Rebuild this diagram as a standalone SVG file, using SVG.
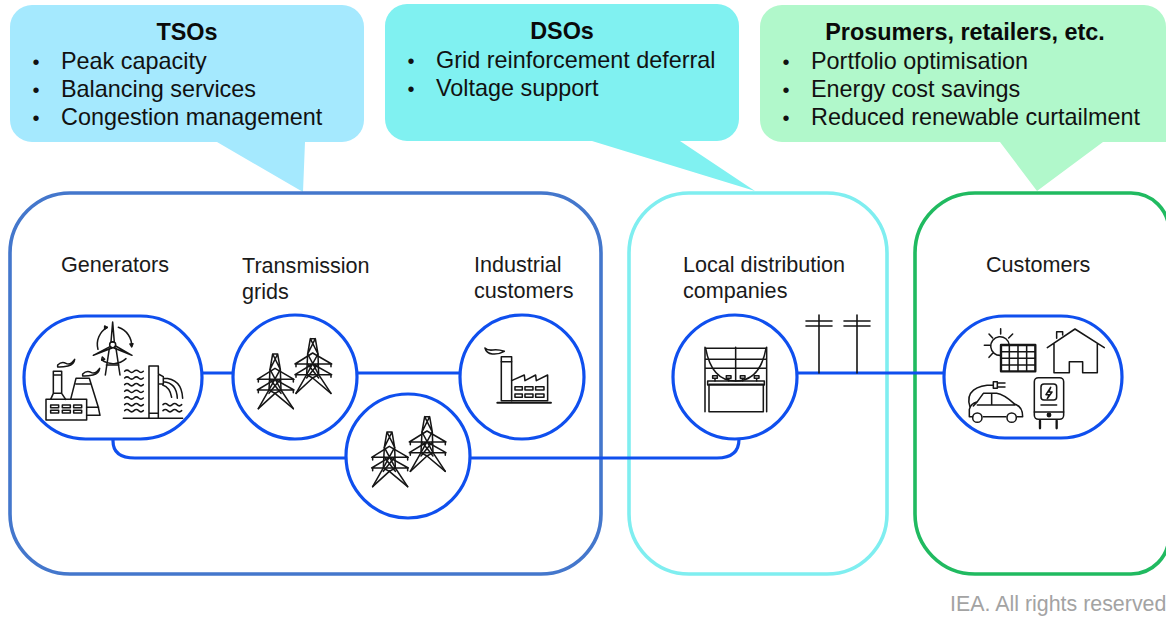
<svg xmlns="http://www.w3.org/2000/svg" xmlns:xlink="http://www.w3.org/1999/xlink" width="1166" height="618" viewBox="0 0 1166 618">
<style>
text{font-family:"Liberation Sans",Arial,sans-serif;fill:#000}
.h{font-size:23.4px;font-weight:700;text-anchor:middle;fill:#0a0a0a}
.b{font-size:23.4px;fill:#111}
.d{font-size:20px;fill:#111}
.l{font-size:21.6px;fill:#1a1a1a}
.box{fill:none;stroke-width:3.6}
.n{fill:#fff;stroke:#0f4fee;stroke-width:3.2}
.c{fill:none;stroke:#0f4fee;stroke-width:3.2}
.i{fill:none;stroke:#161616;stroke-width:4.6;stroke-linejoin:round;stroke-linecap:round}
</style>
<defs>
<g id="tower" class="i">
<path d="M143,132H158L166,178L168,240L205,296M158,132L135,178L132,240L100,296M143,132L135,178M143,132L166,178"/>
<path d="M97,208L150,175L207,208ZM97,240L150,208L207,240Z"/>
<path d="M135,178L168,240L150,250M166,178L132,240L150,250M150,250L205,296M150,250L100,296M135,208L168,250M166,208L132,250"/>
<path d="M100,208v8M205,208v8M100,240v8M205,240v8"/>
</g>
<path id="wave" d="M0,0q7,-7 14,0t14,0t14,0t14,0"/>
</defs>

<g id="callout-tso">
<path fill="#a5e9fe" d="M32,5H342a22,22 0 0 1 22,22V120a22,22 0 0 1 -22,22H305L303,192L217,142H32a22,22 0 0 1 -22,-22V27a22,22 0 0 1 22,-22Z"/>
<text class="h" x="187" y="40">TSOs</text>
<text class="d" x="32.5" y="69">•</text><text class="b" x="61" y="69">Peak capacity</text>
<text class="d" x="32.5" y="97">•</text><text class="b" x="61" y="97">Balancing services</text>
<text class="d" x="32.5" y="125">•</text><text class="b" x="61" y="125">Congestion management</text>
</g>
<g id="callout-dso">
<path fill="#80f1f1" d="M407,4H717a22,22 0 0 1 22,22V119a22,22 0 0 1 -22,22H680L755,191L592,141H407a22,22 0 0 1 -22,-22V26a22,22 0 0 1 22,-22Z"/>
<text class="h" x="562" y="39">DSOs</text>
<text class="d" x="407.5" y="68">•</text><text class="b" x="436" y="68">Grid reinforcement deferral</text>
<text class="d" x="407.5" y="96">•</text><text class="b" x="436" y="96">Voltage support</text>
</g>
<g id="callout-prosumers">
<path fill="#b1f8cb" d="M782,5H1144a22,22 0 0 1 22,22V142H1103L1037,191L1000,142H782a22,22 0 0 1 -22,-22V27a22,22 0 0 1 22,-22Z"/>
<text class="h" x="965" y="40">Prosumers, retailers, etc.</text>
<text class="d" x="782.5" y="69">•</text><text class="b" x="811" y="69">Portfolio optimisation</text>
<text class="d" x="782.5" y="97">•</text><text class="b" x="811" y="97">Energy cost savings</text>
<text class="d" x="782.5" y="125">•</text><text class="b" x="811" y="125">Reduced renewable curtailment</text>
</g>

<g id="group-boxes">
<rect class="box" x="10" y="193" width="591" height="381" rx="60" stroke="#4477cc"/>
<rect class="box" x="629" y="193" width="258" height="381" rx="60" stroke="#7feef0"/>
<path class="box" stroke="#20ba60" d="M975,193H1131a38,38 0 0 1 38,38V536a38,38 0 0 1 -38,38H975a60,60 0 0 1 -60,-60V253a60,60 0 0 1 60,-60Z"/>
</g>

<g id="connectors">
<path class="c" d="M202,373H233M357,373H460M797,373H944"/>
<path class="c" d="M113,439V441Q113,458 135,458H346M470,458H717Q739,458 739,439"/>
<g class="i" style="stroke-width:1.6">
<path d="M819,315V373M806,321H832M806,326H832M857,315V373M844,321H870M844,326H870"/>
</g>
</g>

<g id="generators">
<rect class="n" x="24" y="316" width="178" height="123" rx="61.5"/>
<text class="l" x="61" y="272">Generators</text>
<g class="i" transform="translate(20,310) scale(.3333)">
<circle cx="278" cy="104" r="9"/>
<path d="M273,96L278,36L283,96ZM270,110L220,136L276,114ZM287,108L336,136L282,114Z"/>
<path d="M268,115L256,195M288,115L300,195M259,165H297"/>
<path d="M234,118A58,58 0 0 1 262,52M295,52A58,58 0 0 1 335,110M318,146A58,58 0 0 1 245,150"/>
<path d="M262,52l-8,-4v9ZM335,110l-5,-8l9,-1ZM245,150l2,-9l7,7Z"/>
<path d="M113,165q12,-12 25,-5t26,-12q-2,16 -20,20t-31,3ZM188,192q12,-12 25,-5t26,-12q-2,16 -20,20t-31,3Z"/>
<rect x="78" y="268" width="122" height="62"/>
<path d="M92,268L100,250V184H125V250L137,268M100,195H125M100,250H125"/>
<path d="M152,268L168,205H208L235,292L240,316H200M168,222H212M200,292H236"/>
<path d="M92,285h24v8h-24zM127,285h24v8h-24zM161,285h24v8h-24zM92,301h24v8h-24zM127,301h24v8h-24zM161,301h24v8h-24z"/>
<use xlink:href="#wave" href="#wave" x="314" y="184"/><use xlink:href="#wave" href="#wave" x="314" y="204"/><use xlink:href="#wave" href="#wave" x="314" y="224"/><use xlink:href="#wave" href="#wave" x="314" y="244"/><use xlink:href="#wave" href="#wave" x="314" y="264"/><use xlink:href="#wave" href="#wave" x="314" y="284"/><use xlink:href="#wave" href="#wave" x="314" y="302"/>
<use xlink:href="#wave" href="#wave" x="429" y="284"/><use xlink:href="#wave" href="#wave" x="429" y="302"/>
<path d="M310,325H488M387,168H415V325H387ZM387,310H415M415,192L430,200V222H415M430,205Q485,205 488,265M430,215Q470,218 472,265M428,225Q450,232 455,262"/>
</g>
</g>

<g id="transmission">
<circle class="n" cx="295" cy="377" r="62"/>
<text class="l" x="242" y="273">Transmission</text><text class="l" x="242" y="299">grids</text>
<g transform="translate(225,310) scale(.3333)"><use xlink:href="#tower" href="#tower"/><use xlink:href="#tower" href="#tower" x="113" y="-46"/></g>
</g>

<g id="transmission-lower">
<circle class="n" cx="408" cy="456" r="62"/>
<g transform="translate(225,310) scale(.3333)"><use xlink:href="#tower" href="#tower" x="343" y="234"/><use xlink:href="#tower" href="#tower" x="456" y="188"/></g>
</g>

<g id="industrial">
<circle class="n" cx="522" cy="377" r="62"/>
<text class="l" x="474" y="272">Industrial</text><text class="l" x="474" y="298">customers</text>
<g class="i" transform="translate(225,310) scale(.3333)">
<rect x="829" y="140" width="31" height="132"/><path d="M829,155H860"/>
<path d="M817,278H978" stroke-width="6"/>
<path d="M860,212L898,195L900,212L932,195L934,212L968,195V272H860"/>
<path d="M870,230h22v10h-22zM900,230h24v10h-24zM932,230h25v10h-25zM870,252h22v10h-22zM900,252h24v10h-24zM932,252h25v10h-25z"/>
<path d="M780,114q8,8 24,6t34,4q-18,10 -36,8t-22,-18Z"/>
</g>
</g>

<g id="local-distribution">
<circle class="n" cx="735" cy="377" r="62"/>
<text class="l" x="683" y="272">Local distribution</text><text class="l" x="683" y="298">companies</text>
<g class="i" transform="translate(665,305) scale(.3333)">
<path d="M120,127V320M305,127V320M212,127V228M120,130H305M120,163H305M120,190H305"/>
<path d="M122,130Q140,228 212,228Q285,228 303,130"/>
<rect x="132" y="238" width="163" height="82"/><rect x="128" y="228" width="170" height="12"/>
<path d="M143,212h14v8h-14zM184,212h14v8h-14zM226,212h14v8h-14zM268,212h14v8h-14zM150,220v8M191,220v8M233,220v8M275,220v8"/>
</g>
</g>

<g id="customers">
<rect class="n" x="944" y="316" width="178" height="122" rx="61"/>
<text class="l" x="986" y="272">Customers</text>
<g class="i" transform="translate(940,310) scale(.3333)">
<path d="M208,105A28,28 0 1 0 183,136M182,56V72M147,72L158,84M133,106H150M147,142L158,130M218,72L206,84"/>
<rect x="183" y="105" width="103" height="79" stroke-width="7"/>
<path d="M208,105V184M234,105V184M260,105V184M183,125H286M183,145H286M183,165H286"/>
<path d="M322,113L405,57L493,113M342,100V188H388V155H428V188H472V100M350,85V65H368V75"/>
<path d="M98,320H88V298Q92,280 112,275L130,250H170Q190,252 225,283Q248,290 248,320H232M130,320H198M112,275L100,288M112,285H225M155,250V285"/>
<circle cx="112" cy="323" r="14"/><circle cx="215" cy="323" r="14"/>
<path d="M90,290C75,245 110,225 160,225M160,215V235H172V215ZM172,219H195M172,231H195"/>
<rect x="283" y="203" width="88" height="125" rx="12"/><rect x="303" y="222" width="47" height="48" rx="9"/>
<path d="M283,306H371M303,285H350M332,232L318,254H328L322,266L336,246H326Z"/>
<circle cx="327" cy="315" r="5" fill="#161616"/>
<path d="M300,332V355M350,332V355" stroke-width="7"/>
</g>
</g>

<text id="credit" x="950" y="611" style="font-size:21.4px;fill:#a3a3a3">IEA. All rights reserved</text>
</svg>
